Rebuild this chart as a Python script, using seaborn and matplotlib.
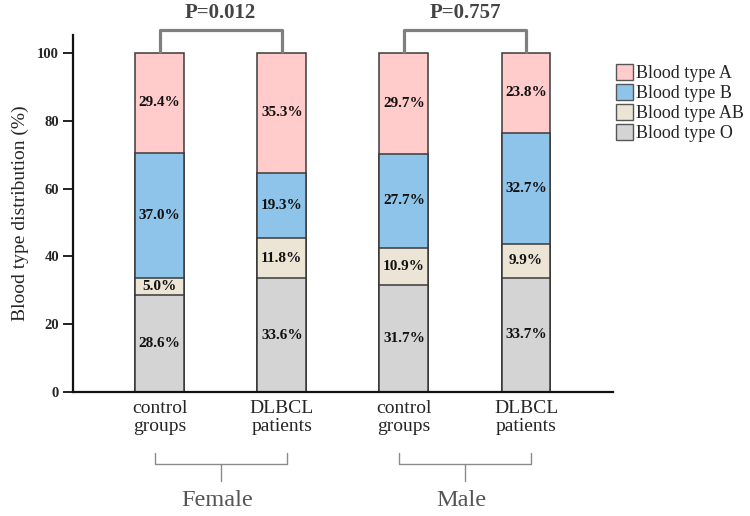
import numpy as np
import pandas as pd
import matplotlib
matplotlib.use("Agg")
import matplotlib.pyplot as plt
import seaborn as sns

# Data (percent per blood type, each bar sums to ~100)
groups = ["Female control", "Female DLBCL", "Male control", "Male DLBCL"]
tick_labels = ["control\ngroups", "DLBCL\npatients", "control\ngroups", "DLBCL\npatients"]
type_o = [28.6, 33.6, 31.7, 33.7]
type_ab = [5.0, 11.8, 10.9, 9.9]
type_b = [37.0, 19.3, 27.7, 32.7]
type_a = [29.4, 35.3, 29.7, 23.8]
legend_names = ["Blood type A", "Blood type B", "Blood type AB", "Blood type O"]
sexes = ["Female", "Male"]
p_values = ["P=0.012", "P=0.757"]

sns.set_style("white")
plt.rcParams['font.family'] = ['Liberation Serif', 'DejaVu Serif']

colors = {"A": "#ffcccb", "B": "#8fc4ea", "AB": "#ece5d5", "O": "#d4d4d4"}
edge = "#3a3a3a"

df = pd.DataFrame({"group": groups, "O": type_o, "AB": type_ab, "B": type_b, "A": type_a})
# cumulative tops for stacking (bottom -> top: O, AB, B, A)
df["top_O"] = df["O"]
df["top_AB"] = df["top_O"] + df["AB"]
df["top_B"] = df["top_AB"] + df["B"]
df["top_A"] = df["top_B"] + df["A"]

fig = plt.figure(figsize=(7.5, 5.16), dpi=100)
ax = fig.add_axes([0.0973, 0.2403, 0.7197, 0.6919])

# draw tallest first so lower segments sit on top
for key in ["A", "B", "AB", "O"]:
    sns.barplot(data=df, x="group", y="top_" + key, order=groups, color=colors[key],
                saturation=1, width=0.4, edgecolor=edge, linewidth=1.1,
                errorbar=None, ax=ax)

# percentage labels in the middle of each segment
for key in ["O", "AB", "B", "A"]:
    for i in range(len(groups)):
        mid = df["top_" + key][i] - df[key][i] / 2
        ax.text(i, mid, f"{df[key][i]:.1f}%", ha="center", va="center",
                fontsize=11, fontweight="bold", color="#111111")

ax.set_xlim(-0.71, 3.71)
ax.set_ylim(0, 105.3)
ax.set_yticks([0, 20, 40, 60, 80, 100])
ax.set_xticks(range(len(groups)))
ax.set_xticklabels(tick_labels, fontsize=14, linespacing=1.05)
for lab in ax.get_yticklabels():
    lab.set_fontweight("bold")
    lab.set_fontsize(10.5)
ax.tick_params(axis="x", length=0, pad=6)
ax.tick_params(axis="y", length=7, width=1.3, pad=3, left=True, color="#111111")
ax.set_xlabel("")
ax.set_ylabel("Blood type distribution (%)", fontsize=14, labelpad=6)
sns.despine(ax=ax)
for s in ["left", "bottom"]:
    ax.spines[s].set_linewidth(1.6)
    ax.spines[s].set_color("#111111")

# significance brackets above each pair
for k in range(2):
    x0, x1 = 2 * k, 2 * k + 1
    ax.plot([x0, x0, x1, x1], [100, 106.8, 106.8, 100], color="#7f7f7f", lw=2.3,
            solid_joinstyle="round", solid_capstyle="butt", clip_on=False)
    ax.text((x0 + x1) / 2, 111.8, p_values[k], ha="center", va="center",
            fontsize=15, fontweight="bold", color="#444444", clip_on=False)

# braces below the tick labels grouping by sex
trans = ax.get_xaxis_transform()
for k in range(2):
    c = 2 * k + 0.5
    left, right = c - 0.54, c + 0.54
    ax.plot([left, left, right, right], [-0.171, -0.202, -0.202, -0.171],
            color="#8a8a8a", lw=1.0, transform=trans, clip_on=False)
    ax.plot([c, c], [-0.202, -0.249], color="#8a8a8a", lw=1.0,
            transform=trans, clip_on=False)
    ax.text(c - 0.03, -0.305, sexes[k], ha="center", va="center", fontsize=17.5,
            color="#555555", transform=trans, clip_on=False)

handles = [plt.Rectangle((0, 0), 1, 1, facecolor=colors[k], edgecolor="#555555", linewidth=1)
           for k in ["A", "B", "AB", "O"]]
fig.legend(handles, legend_names, loc="upper left", bbox_to_anchor=(616 / 750, 1 - 64 / 516),
           frameon=False, fontsize=13, handlelength=0.95, handleheight=0.95,
           handletextpad=0.15, labelspacing=0.12, borderpad=0, borderaxespad=0)

fig.savefig("out.png", dpi=100)
